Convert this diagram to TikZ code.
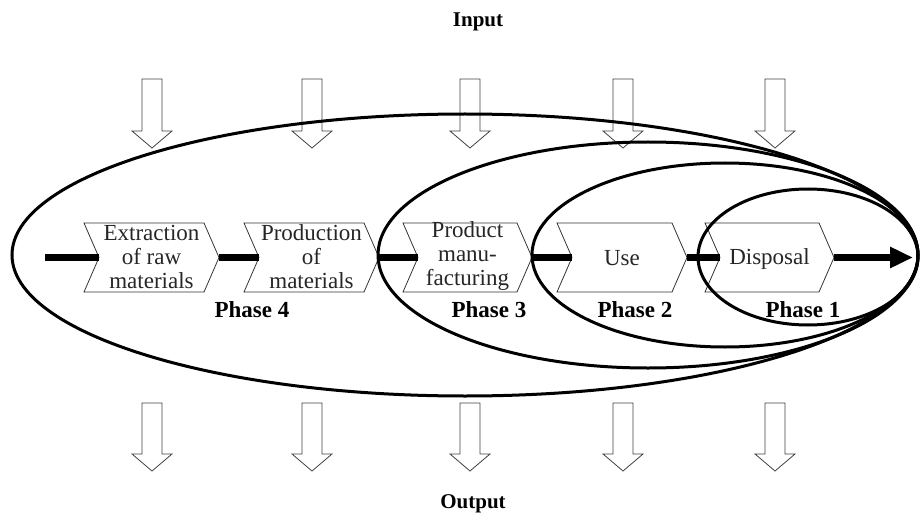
\documentclass[tikz,border=0pt]{standalone}
\usepackage{fontspec}
\setmainfont{Liberation Serif}
\usetikzlibrary{arrows.meta}
\begin{document}
\begin{tikzpicture}[x=1pt,y=-1pt,
  chevbox/.style={draw=none, minimum height=69pt, inner sep=0pt, outer sep=0pt},
  chevtext/.style={align=center, inner sep=0pt, font=\fontsize{23}{24}\selectfont, text=black!85},
  chevline/.style={draw=black!80, line width=0.8pt, line join=miter},
  phase/.style={font=\fontsize{23}{24}\selectfont\bfseries, anchor=base},
  io/.style={font=\fontsize{21}{24}\selectfont\bfseries, anchor=base},
  flow/.style={line width=7pt},
  ring/.style={line width=3pt},
  blockarrow/.style={draw=black!75, line width=0.8pt, line join=miter}]
\useasboundingbox (0,0) rectangle (920,513);

% block arrows (input / output)
\foreach \x in {152,312,470,623,775} {
  \draw[blockarrow] (\x-10,79) -- (\x-10,131) -- (\x-20,131) -- (\x,148) -- (\x+20,131) -- (\x+10,131) -- (\x+10,79) -- cycle;
  \draw[blockarrow] (\x-10,403) -- (\x-10,454) -- (\x-20,454) -- (\x,471) -- (\x+20,454) -- (\x+10,454) -- (\x+10,403) -- cycle;
}

% chevron frames
\node[chevbox, minimum width=135pt] (c1) at (151.5,257.5) {};
\node[chevbox, minimum width=135pt] (c2) at (311.5,257.5) {};
\node[chevbox, minimum width=129pt] (c3) at (467.5,257.5) {};
\node[chevbox, minimum width=130pt] (c4) at (622,257.5) {};
\node[chevbox, minimum width=129pt] (c5) at (769.5,257.5) {};
\foreach \c in {c1,c2,c3,c4,c5} {
  \draw[chevline] (\c.north west) -- ([xshift=-15pt]\c.north east) -- (\c.east)
    -- ([xshift=-15pt]\c.south east) -- (\c.south west) -- ([xshift=15pt]\c.west) -- cycle;
}

% texts in chevrons
\node[chevtext] (t1) at ([yshift=1pt]c1.center) {Extraction\\of raw\\materials};
\node[chevtext] (t2) at ([yshift=1pt]c2.center) {Production\\of\\materials};
\node[chevtext] (t3) at ([yshift=1pt]c3.center) {Product\\manu-\\facturing};
\node[chevtext] (t4) at ([yshift=-1pt]c4.center) {Use};
\node[chevtext] (t5) at ([yshift=-1pt]c5.center) {Disposal};

% flow line
\coordinate (start) at (45,257.5);
\coordinate (end) at (913,257.5);
\draw[flow] (start) -- ([xshift=15pt]c1.west);
\draw[flow] (c1.east) -- ([xshift=15pt]c2.west);
\draw[flow] (c2.east) -- ([xshift=15pt]c3.west);
\draw[flow] (c3.east) -- ([xshift=15pt]c4.west);
\draw[flow] (c4.east) -- ([xshift=15pt]c5.west);
\draw[flow, -{Triangle[length=23pt,width=20pt]}] (c5.east) -- (end);

% phase labels
\node[phase] (p4) at (252,317) {Phase 4};
\node[phase] (p3) at (489,317) {Phase 3};
\node[phase] (p2) at (635,317) {Phase 2};
\node[phase] (p1) at (803,317) {Phase 1};

% input / output
\node[io] (in) at (478,27) {Input};
\node[io] (out) at (473,508) {Output};

% nested ellipses
\draw[ring] (465,255) ellipse [x radius=453, y radius=141];
\draw[ring] (648,255) ellipse [x radius=270, y radius=113];
\draw[ring] (725,255) ellipse [x radius=193, y radius=92];
\draw[ring] (808,257) ellipse [x radius=110, y radius=68];
\end{tikzpicture}
\end{document}
